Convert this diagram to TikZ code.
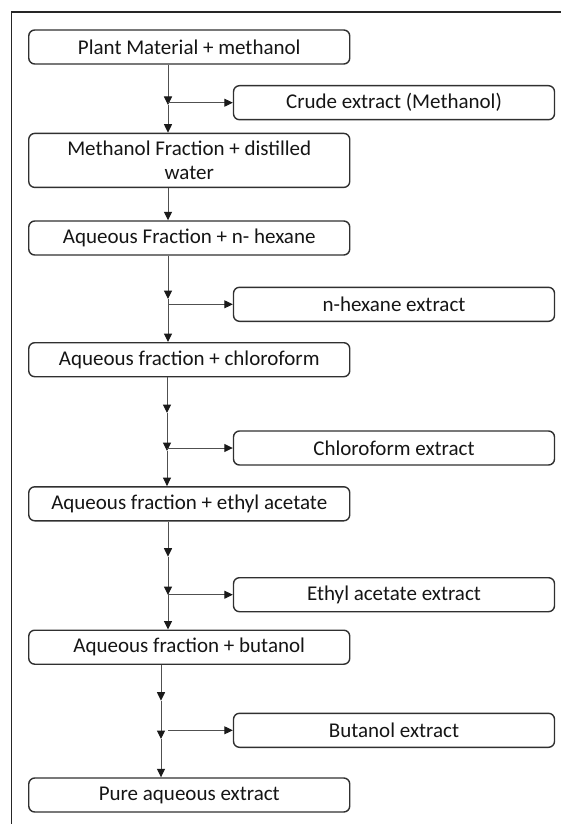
\documentclass[tikz,border=0pt]{standalone}
\usepackage{fontspec}
\setmainfont{Carlito}
\usetikzlibrary{arrows.meta,calc}
\definecolor{boxline}{HTML}{303030}
\definecolor{arrline}{HTML}{505050}
\definecolor{arrhead}{HTML}{1A1A1A}
\definecolor{txt}{HTML}{151515}
\begin{document}
\begin{tikzpicture}[x=1pt,y=-1pt,
  stepbox/.style={draw=boxline,line width=1.4pt,rounded corners=6pt,
    minimum width=321pt,minimum height=34pt,inner sep=0pt,align=center,
    text=txt,font=\fontsize{21}{24.5}\selectfont},
  arr/.style={draw=arrline,line width=1pt,-{Triangle[length=8.5pt,width=8pt,color=arrhead]}},
  frameline/.style={draw=black!85,line width=1.4pt}]
\useasboundingbox (0,0) rectangle (561,824);
% frame
\coordinate (ftl) at (11.5,12);
\coordinate (ftr) at (561,12);
\coordinate (fbl) at (11.5,824);
\draw[frameline] (ftr) -- (ftl) -- (fbl);
% main boxes
\node[stepbox] (b1) at (189.25,47) {Plant Material + methanol};
\node[stepbox,minimum height=54pt] (b3) at (189.25,160.4) {Methanol Fraction + distilled\\water};
\node[stepbox] (b4) at (189.25,238) {Aqueous Fraction + n- hexane};
\node[stepbox] (b5) at (189.25,359.7) {Aqueous fraction + chloroform};
\node[stepbox] (b6) at (189.25,503.8) {Aqueous fraction + ethyl acetate};
\node[stepbox] (b7) at (189.25,647.2) {Aqueous fraction + butanol};
\node[stepbox] (b8) at (189.25,795) {Pure aqueous extract};
% extract boxes
\node[stepbox] (e1) at (394,102.7) {Crude extract (Methanol)};
\node[stepbox] (e2) at (394,304.3) {n-hexane extract};
\node[stepbox] (e3) at (394,448) {Chloroform extract};
\node[stepbox] (e4) at (394,594.7) {Ethyl acetate extract};
\node[stepbox] (e5) at (394,730.3) {Butanol extract};
% junction points
\coordinate (j1) at (168,105);
\coordinate (j3) at (168,299);
\coordinate (j4a) at (167,413);
\coordinate (j4b) at (167,451);
\coordinate (j5a) at (168,556.7);
\coordinate (j5b) at (168,595);
\coordinate (j6a) at (161,700.7);
\coordinate (j6b) at (161,739);
\coordinate (h6) at (168,730.3);
% connectors
\draw[arr] (b1.south -| j1) -- (j1);
\draw[arr] (j1) -- (b3.north -| j1);
\draw[arr] (e1.west -| j1) -- (e1.west);
\draw[arr] (b3.south -| j1) -- (b4.north -| j1);
\draw[arr] (b4.south -| j3) -- (j3);
\draw[arr] (j3) -- (b5.north -| j3);
\draw[arr] (e2.west -| j3) -- (e2.west);
\draw[arr] (b5.south -| j4a) -- (j4a);
\draw[arr] (j4a) -- (j4b);
\draw[arr] (j4b) -- (b6.north -| j4b);
\draw[arr] (e3.west -| j4b) -- (e3.west);
\draw[arr] (b6.south -| j5a) -- (j5a);
\draw[arr] (j5a) -- (j5b);
\draw[arr] (j5b) -- (b7.north -| j5b);
\draw[arr] (e4.west -| j5b) -- (e4.west);
\draw[arr] (b7.south -| j6a) -- (j6a);
\draw[arr] (j6a) -- (j6b);
\draw[arr] (j6b) -- (b8.north -| j6b);
\draw[arr] (h6) -- (e5.west);
\end{tikzpicture}
\end{document}
